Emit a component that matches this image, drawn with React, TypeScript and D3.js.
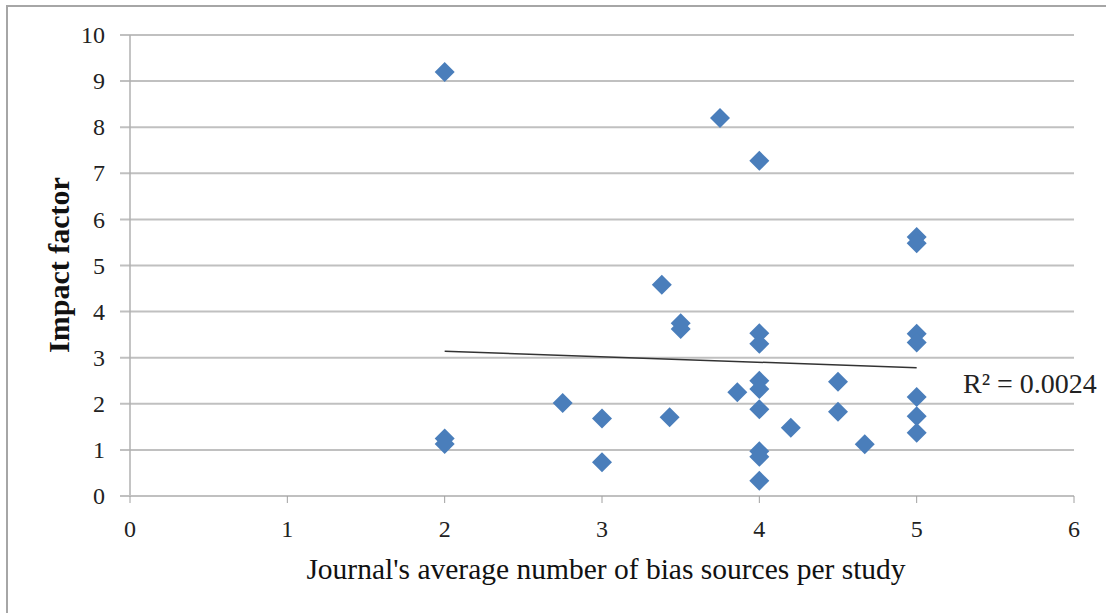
import React, { useRef, useEffect } from 'react';
import * as d3 from 'd3';

// bias sources per study (x) vs. impact factor (y)
const biasSources = [2, 2, 2, 2.75, 3, 3, 3.38, 3.43, 3.5, 3.5, 3.75, 3.86, 4, 4, 4, 4, 4, 4, 4, 4, 4, 4.2, 4.5, 4.5, 4.67, 5, 5, 5, 5, 5, 5, 5];
const impactFactor = [9.2, 1.25, 1.13, 2.02, 1.68, 0.73, 4.58, 1.71, 3.75, 3.62, 8.2, 2.25, 7.27, 3.53, 3.3, 2.5, 2.32, 1.88, 0.97, 0.85, 0.33, 1.48, 2.48, 1.83, 1.12, 5.62, 5.48, 3.52, 3.33, 2.15, 1.73, 1.37];
const xTicks = [0, 1, 2, 3, 4, 5, 6];
const yTicks = [0, 1, 2, 3, 4, 5, 6, 7, 8, 9, 10];
const rSquaredLabel = 'R² = 0.0024';

const App: React.FC = () => {
  const ref = useRef<SVGSVGElement | null>(null);

  useEffect(() => {
    if (!ref.current) return;
    const width = 1106;
    const height = 613;
    const svg = d3.select(ref.current);
    svg.selectAll('*').remove();
    svg.attr('width', width).attr('height', height);

    const x = d3.scaleLinear().domain([0, 6]).range([130, 1074]);
    const y = d3.scaleLinear().domain([0, 10]).range([496, 35]);
    const font = '"Liberation Serif", "Times New Roman", serif';

    // outer frame (cut off on the right and bottom)
    svg.append('rect')
      .attr('x', 7).attr('y', 6)
      .attr('width', 1200).attr('height', 700)
      .attr('fill', 'white')
      .attr('stroke', '#a6a6a6')
      .attr('stroke-width', 2);

    // horizontal gridlines, with tick stubs to the left of the axis
    svg.append('g')
      .selectAll('line')
      .data(yTicks.filter((d) => d > 0))
      .enter()
      .append('line')
      .attr('x1', x(0) - 10)
      .attr('x2', x(6))
      .attr('y1', (d) => y(d))
      .attr('y2', (d) => y(d))
      .attr('stroke', '#c0c0c0')
      .attr('stroke-width', 2);

    // y axis
    svg.append('line')
      .attr('x1', x(0)).attr('x2', x(0))
      .attr('y1', y(10)).attr('y2', y(0))
      .attr('stroke', '#b0b0b0').attr('stroke-width', 1.5);

    // x axis with ticks
    svg.append('line')
      .attr('x1', x(0) - 10).attr('x2', x(6))
      .attr('y1', y(0)).attr('y2', y(0))
      .attr('stroke', '#c0c0c0').attr('stroke-width', 2);
    svg.append('g')
      .selectAll('line')
      .data(xTicks)
      .enter()
      .append('line')
      .attr('x1', (d) => x(d)).attr('x2', (d) => x(d))
      .attr('y1', y(0)).attr('y2', y(0) + 7)
      .attr('stroke', '#a0a0a0').attr('stroke-width', 1);

    // tick labels
    svg.append('g')
      .selectAll('text')
      .data(yTicks)
      .enter()
      .append('text')
      .attr('x', 105)
      .attr('y', (d) => y(d))
      .attr('dy', '0.34em')
      .attr('text-anchor', 'end')
      .style('font-family', font)
      .style('font-size', '24px')
      .attr('fill', '#222')
      .text((d) => d);

    svg.append('g')
      .selectAll('text')
      .data(xTicks)
      .enter()
      .append('text')
      .attr('x', (d) => x(d))
      .attr('y', 537)
      .attr('text-anchor', 'middle')
      .style('font-family', font)
      .style('font-size', '24px')
      .attr('fill', '#222')
      .text((d) => d);

    // axis titles
    svg.append('text')
      .attr('transform', `translate(69, ${265}) rotate(-90)`)
      .attr('text-anchor', 'middle')
      .style('font-family', font)
      .style('font-size', '30px')
      .style('font-weight', 'bold')
      .attr('fill', '#111')
      .text('Impact factor');

    svg.append('text')
      .attr('x', 606)
      .attr('y', 579)
      .attr('text-anchor', 'middle')
      .style('font-family', font)
      .style('font-size', '29.5px')
      .attr('fill', '#111')
      .text("Journal's average number of bias sources per study");

    // linear trendline (least squares over the points)
    const pts = biasSources.map((bx, i) => ({ bx, iy: impactFactor[i] }));
    const mx = d3.mean(pts, (d) => d.bx) || 0;
    const my = d3.mean(pts, (d) => d.iy) || 0;
    const sxy = d3.sum(pts, (d) => (d.bx - mx) * (d.iy - my));
    const sxx = d3.sum(pts, (d) => (d.bx - mx) ** 2);
    const slope = sxy / sxx;
    const intercept = my - slope * mx;
    const [xMin, xMax] = d3.extent(biasSources) as [number, number];
    svg.append('line')
      .attr('x1', x(xMin)).attr('y1', y(intercept + slope * xMin))
      .attr('x2', x(xMax)).attr('y2', y(intercept + slope * xMax))
      .attr('stroke', '#333')
      .attr('stroke-width', 1.5);

    // markers
    const diamond = d3.symbol().type(d3.symbolSquare).size(200);
    svg.append('g')
      .selectAll('path')
      .data(pts)
      .enter()
      .append('path')
      .attr('d', diamond)
      .attr('transform', (d) => `translate(${x(d.bx)},${y(d.iy)}) rotate(45)`)
      .attr('fill', '#4a7ebb');

    svg.append('text')
      .attr('x', 963)
      .attr('y', 393)
      .style('font-family', font)
      .style('font-size', '28px')
      .attr('fill', '#222')
      .text(rSquaredLabel);
  }, []);

  return (
    <div style={{ position: 'absolute', left: 0, top: 0 }}>
      <svg ref={ref} style={{ display: 'block' }} />
    </div>
  );
};

export default App;
